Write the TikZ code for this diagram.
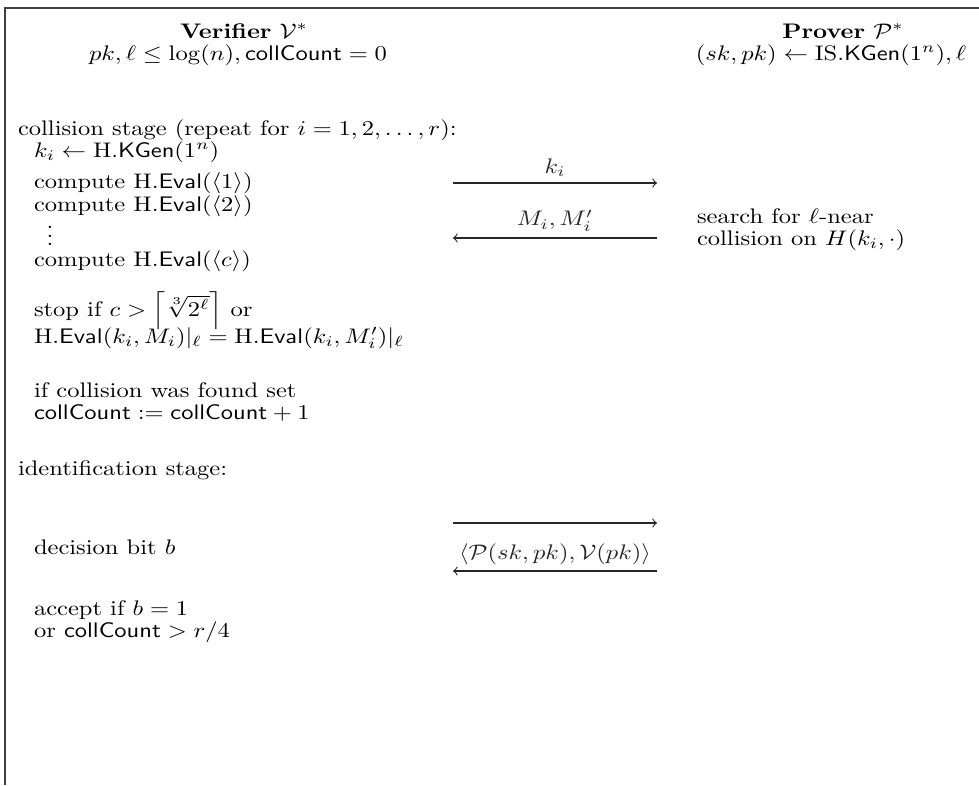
\documentclass[tikz,border=0pt]{standalone}
\usepackage{amsmath,amssymb}
\newcommand{\sq}[1]{\scalebox{1}[0.86]{#1}}
\newcommand{\mydots}{\vbox{\baselineskip=4pt\lineskiplimit=0pt\hbox{.}\hbox{.}\hbox{.}}}
\begin{document}
\begin{tikzpicture}[x=0.408pt,y=-0.408pt,
  txt/.style={anchor=base west,inner sep=0pt,outer sep=0pt},
  hdr/.style={anchor=base,inner sep=0pt,outer sep=0pt},
  msg/.style={->,line width=0.45pt,black!85},
  lbl/.style={inner sep=0pt,anchor=base}]
\useasboundingbox (0,0) rectangle (979,785);
% frame
\coordinate (fr) at (979,8);
\coordinate (fc) at (5,8);
\coordinate (fb) at (5,785);
\draw[line width=0.6pt,black!75] (fr) -- (fc) -- (fb);
% headers
\node[hdr] (vh) at (244,38) {\sq{\textbf{Verifier} $\mathcal{V}^*$}};
\node[hdr] (vi) at (238,60) {\sq{$pk,\ell\le\log(n),\mathsf{collCount}=0$}};
\node[hdr] (ph) at (843,38) {\sq{\textbf{Prover} $\mathcal{P}^*$}};
\node[hdr] (pi) at (831,60) {\sq{$(sk,pk)\leftarrow\mathrm{IS}.\mathsf{KGen}(1^n),\ell$}};
% verifier column
\node[txt] (cs) at (18,135) {\sq{collision stage (repeat for $i=1,2,\ldots,r$):}};
\node[txt] (kg) at (34,157) {\sq{$k_i\leftarrow\mathrm{H}.\mathsf{KGen}(1^n)$}};
\node[txt] (c1) at (34,188) {\sq{compute $\mathrm{H}.\mathsf{Eval}(\langle 1\rangle)$}};
\node[txt] (c2) at (34,211) {\sq{compute $\mathrm{H}.\mathsf{Eval}(\langle 2\rangle)$}};
\node[inner sep=0pt] (vd) at (50,236) {\sq{\mydots}};
\node[txt] (cc) at (34,266) {\sq{compute $\mathrm{H}.\mathsf{Eval}(\langle c\rangle)$}};
\node[txt] (st) at (34,316) {\sq{stop if $c>\left\lceil\sqrt[3]{2^\ell}\right\rceil$ or}};
\node[txt] (he) at (34,343) {\sq{$\mathrm{H}.\mathsf{Eval}(k_i,M_i)|_\ell=\mathrm{H}.\mathsf{Eval}(k_i,M_i')|_\ell$}};
\node[txt] (ic) at (34,397) {\sq{if collision was found set}};
\node[txt] (cu) at (34,419) {\sq{$\mathsf{collCount}:=\mathsf{collCount}+1$}};
\node[txt] (is) at (18,475) {\sq{identification stage:}};
\node[txt] (db) at (34,554) {\sq{decision bit $b$}};
\node[txt] (ac) at (34,615) {\sq{accept if $b=1$}};
\node[txt] (oc) at (34,637) {\sq{or $\mathsf{collCount}>r/4$}};
% prover column
\node[txt] (sf) at (697,223) {\sq{search for $\ell$-near}};
\node[txt] (co) at (697,245) {\sq{collision on $H(k_i,\cdot)$}};
% messages
\coordinate (a1l) at (453,183); \coordinate (a1r) at (657,183);
\coordinate (a2l) at (453,238); \coordinate (a2r) at (657,238);
\coordinate (a3l) at (453,523); \coordinate (a3r) at (657,523);
\coordinate (a4l) at (453,571); \coordinate (a4r) at (657,571);
\draw[msg] (a1l) -- node[lbl,above=2.5pt] (l1) {\sq{$k_i$}} (a1r);
\draw[msg] (a2r) -- node[lbl,above=2.5pt] (l2) {\sq{$M_i,M_i'$}} (a2l);
\draw[msg] (a3l) -- (a3r);
\draw[msg] (a4r) -- node[lbl,above=2.5pt] (l4) {\sq{$\langle\mathcal{P}(sk,pk),\mathcal{V}(pk)\rangle$}} (a4l);
\end{tikzpicture}
\end{document}
